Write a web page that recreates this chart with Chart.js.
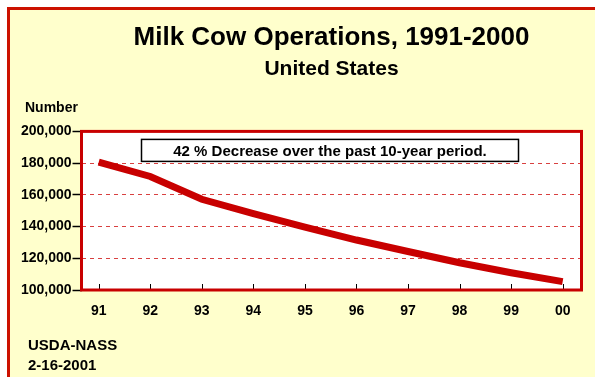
<!DOCTYPE html>
<html>
<head>
<meta charset="utf-8">
<script src="https://cdn.jsdelivr.net/npm/chart.js@4.4.0/dist/chart.umd.min.js"></script>
<style>
  html, body { margin: 0; padding: 0; background: #ffffff; }
  #wrap { position: relative; width: 595px; height: 377px; }
</style>
</head>
<body>
<div id="wrap"><canvas id="c" width="595" height="377"></canvas></div>
<script>
// ---- Data ----
const years = ['91', '92', '93', '94', '95', '96', '97', '98', '99', '00'];
const operations = [180600, 171600, 157200, 148100, 139700, 131500, 124300, 117200, 110900, 105300];
const yTicks = [100000, 120000, 140000, 160000, 180000, 200000];
const titleText = 'Milk Cow Operations, 1991-2000';
const subtitleText = 'United States';
const yAxisLabel = 'Number';
const noteText = '42 % Decrease over the past 10-year period.';
const sourceLines = ['USDA-NASS', '2-16-2001'];

const FONT = '"Liberation Sans", Arial, Helvetica, sans-serif';
const RED = '#c80000';
const CREAM = '#ffffcc';

const decor = {
  id: 'decor',
  beforeDraw(chart) {
    const ctx = chart.ctx, a = chart.chartArea;
    ctx.save();
    ctx.fillStyle = '#ffffff';
    ctx.fillRect(0, 0, chart.width, chart.height);
    ctx.fillStyle = CREAM;
    ctx.fillRect(7, 7, chart.width, chart.height);
    ctx.fillStyle = '#cc1100';
    ctx.fillRect(7, 7, chart.width, 3);
    ctx.fillRect(7, 7, 3, chart.height);
    ctx.fillStyle = '#ffffff';
    ctx.fillRect(a.left, a.top, a.right - a.left, a.bottom - a.top);
    ctx.restore();
  },
  afterDatasetsDraw(chart) {
    const ctx = chart.ctx, a = chart.chartArea, xs = chart.scales.x;
    ctx.save();
    // x tick marks inside the plot
    ctx.strokeStyle = '#000';
    ctx.lineWidth = 1;
    years.forEach((_, i) => {
      const px = Math.round(xs.getPixelForValue(i)) + 0.5;
      ctx.beginPath();
      ctx.moveTo(px, a.bottom - 6);
      ctx.lineTo(px, a.bottom);
      ctx.stroke();
    });
    // plot frame
    ctx.strokeStyle = RED;
    ctx.lineWidth = 3;
    ctx.strokeRect(a.left, a.top, a.right - a.left, a.bottom - a.top);
    // annotation box
    const bx = a.left + 60, by = a.top + 8, bw = 377, bh = 22;
    ctx.fillStyle = '#ffffff';
    ctx.fillRect(bx, by, bw, bh);
    ctx.strokeStyle = '#000';
    ctx.lineWidth = 1.5;
    ctx.strokeRect(bx, by, bw, bh);
    ctx.fillStyle = '#000';
    ctx.font = 'bold 15px ' + FONT;
    ctx.textAlign = 'center';
    ctx.textBaseline = 'alphabetic';
    ctx.fillText(noteText, bx + bw / 2, by + 16.5);
    // axis label and source
    ctx.textAlign = 'left';
    ctx.font = 'bold 14px ' + FONT;
    ctx.fillText(yAxisLabel, 25, 112);
    ctx.font = 'bold 15px ' + FONT;
    ctx.fillText(sourceLines[0], 28, 350);
    ctx.fillText(sourceLines[1], 28, 370);
    ctx.restore();
  }
};

new Chart(document.getElementById('c'), {
  type: 'line',
  data: {
    labels: years,
    datasets: [{
      data: operations.map((v, i) => ({ x: i, y: v })),
      borderColor: RED,
      borderWidth: 7,
      borderCapStyle: 'butt',
      pointRadius: 0,
      tension: 0,
      fill: false
    }]
  },
  options: {
    responsive: false,
    animation: false,
    events: [],
    layout: { padding: { left: 0, right: 13.5, top: 0, bottom: 0 } },
    plugins: {
      legend: { display: false },
      tooltip: { enabled: false },
      title: {
        display: true,
        text: titleText,
        fullSize: false,
        color: '#000',
        font: { family: FONT, size: 26, weight: 'bold', lineHeight: 1.2 },
        padding: { top: 22, bottom: 0 }
      },
      subtitle: {
        display: true,
        text: subtitleText,
        fullSize: false,
        color: '#000',
        font: { family: FONT, size: 21, weight: 'bold', lineHeight: 1.2 },
        padding: { top: 3, bottom: 50 }
      }
    },
    scales: {
      x: {
        type: 'linear',
        min: -0.334,
        max: 9.365,
        afterBuildTicks(scale) { scale.ticks = years.map((_, i) => ({ value: i })); },
        afterFit(scale) { scale.height = 87; },
        ticks: {
          autoSkip: false,
          maxRotation: 0,
          padding: 13,
          color: '#000',
          font: { family: FONT, size: 14, weight: 'bold' },
          callback: (v) => years[v]
        },
        grid: { display: true, drawOnChartArea: false, drawTicks: false },
        border: { display: false }
      },
      y: {
        min: 100000,
        max: 200000,
        afterBuildTicks(scale) { scale.ticks = yTicks.map(v => ({ value: v })); },
        afterFit(scale) { scale.width = 81.5; },
        ticks: {
          padding: 1,
          color: '#000',
          font: { family: FONT, size: 14, weight: 'bold' },
          callback: (v) => v.toLocaleString('en-US')
        },
        grid: {
          color: (c) => (c.tick && (c.tick.value === 100000 || c.tick.value === 200000)) ? 'rgba(0,0,0,0)' : '#d84040',
          lineWidth: 1,
          tickLength: 9,
          tickColor: '#000',
          tickWidth: 1.5,
          tickBorderDash: []
        },
        border: { display: false, dash: [4, 4] }
      }
    }
  },
  plugins: [decor]
});
</script>
</body>
</html>
